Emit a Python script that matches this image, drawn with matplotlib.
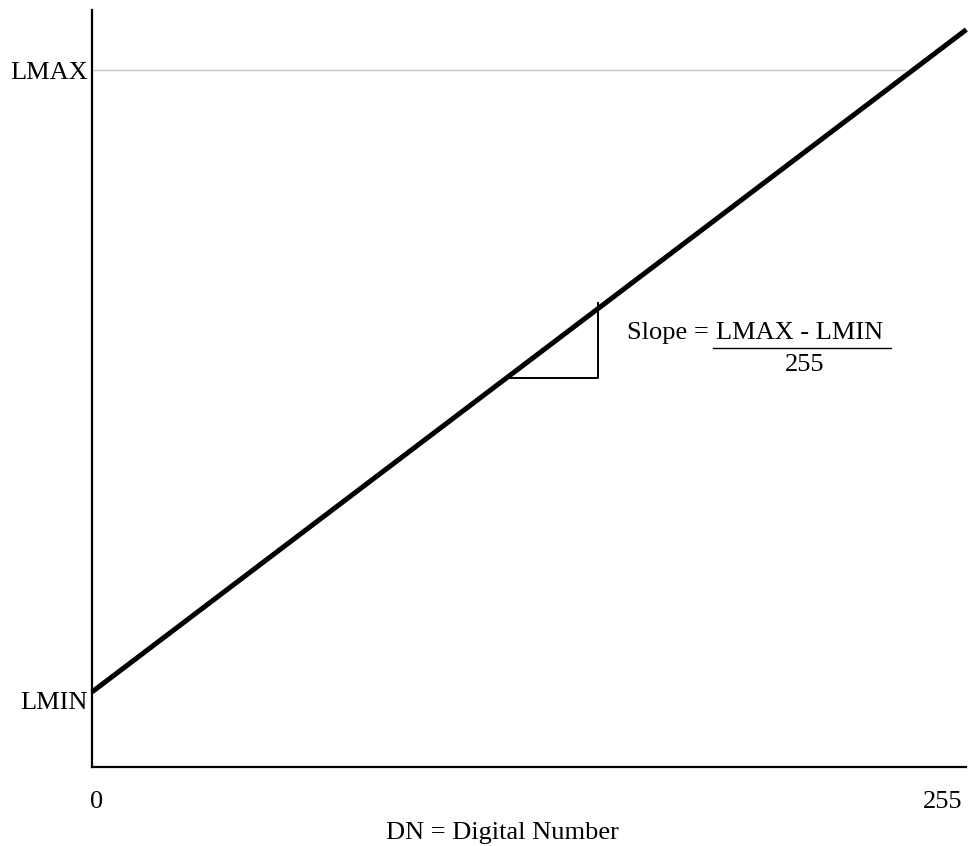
import matplotlib
matplotlib.use("Agg")
import matplotlib.pyplot as plt
import matplotlib.transforms as mtransforms

plt.rcParams['font.family'] = ['Liberation Serif', 'DejaVu Serif']

# Data
dn = [0, 262]                 # digital number range of the drawn line
radiance = [1.0, 9.52]        # radiance values along the line
LMIN = 1.0
LMAX = 9.0
lmax_line_end = 243.6         # where the LMAX guide stops
tri_x = [123.8, 151.6, 151.6]
tri_y = [5.04, 5.04, 6.0]
xtick_vals = [1.5, 255]
xtick_labels = ['0', '255']
ytick_vals = [LMIN, LMAX]
ytick_labels = ['LMIN', 'LMAX']

fs = 19

fig = plt.figure(figsize=(9.68, 8.46), dpi=100)
ax = fig.add_axes([92/968, 1-767/846, (966-92)/968, (767-10)/846])
ax.set_xlim(0, 261.9)
ax.set_ylim(0.035, 9.772)

ax.plot([0, lmax_line_end], [LMAX, LMAX], color='#c8c8c8', lw=1.0, zorder=1)
ax.plot(dn, radiance, color='black', lw=3.6, solid_capstyle='butt', clip_on=False, zorder=3)
ax.plot(tri_x, tri_y, color='black', lw=1.4, zorder=2)

for s in ['top', 'right']:
    ax.spines[s].set_visible(False)
for s in ['left', 'bottom']:
    ax.spines[s].set_linewidth(1.6)

ax.set_xticks(xtick_vals)
ax.set_xticklabels(xtick_labels, fontsize=fs)
ax.set_yticks(ytick_vals)
ax.set_yticklabels(ytick_labels, fontsize=fs)
ax.tick_params(axis='x', length=0, pad=17)
ax.tick_params(axis='y', length=0, pad=3)
# shift LMIN label slightly down
lab = ax.get_yticklabels()[0]
lab.set_transform(lab.get_transform() + mtransforms.ScaledTranslation(0, -9/100, fig.dpi_scale_trans))

ax.set_xlabel('DN = Digital Number', fontsize=fs)
ax.xaxis.set_label_coords((502-92)/874, -(833-767)/757)
ax.xaxis.label.set_va('center')

ax.text(160.3, 5.62, 'Slope =', fontsize=fs, ha='left', va='center')
ax.text(212.0, 5.62, 'LMAX - LMIN', fontsize=fs, ha='center', va='center')
ax.plot([186.1, 239.3], [5.42, 5.42], color='black', lw=1.0)
ax.text(213.5, 5.2, '255', fontsize=fs, ha='center', va='center')

fig.savefig('out.png', dpi=100)
